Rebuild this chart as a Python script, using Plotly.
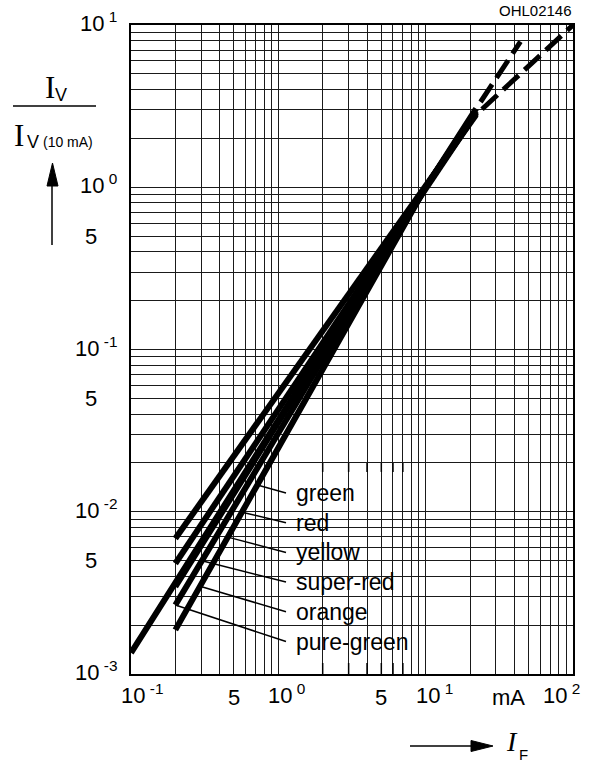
import numpy as np
import plotly.graph_objects as go

# relative luminous intensity Iv/Iv(10mA) vs forward current IF (mA)
CURVE_NAMES = ["green", "red", "yellow", "super-red", "orange", "pure-green"]
IF_START = [0.2, 0.2, 0.1, 0.2, 0.2, 0.2]
IV_START = [6.85e-3, 4.8e-3, 1.35e-3, 3.45e-3, 2.66e-3, 1.87e-3]
IF_REF = 10.0
IV_REF = 1.0
IF_END = [22, 22, 22, 22, 22, 22]
IV_END = [2.8, 2.85, 2.9, 2.9, 2.95, 3.05]

# dashed extrapolation above ~20 mA
DASH_A_IF = [22, 44]
DASH_A_IV = [3.05, 7.9]
DASH_B_IF = [22, 100]
DASH_B_IV = [2.8, 10.0]

# label leaders: which curve they end on and where (mA)
LEADER_ON = [5, 5, 5, 4, 5, 4]
LEADER_IF = [0.72, 0.566, 0.454, 0.303, 0.294, 0.2]

X_TICK_VALS = [0.1, 0.5, 1, 5, 10, 100]
X_TICK_TEXT = ["10<sup> -1</sup>", "5", "10<sup> 0</sup>", "5", "10<sup> 1</sup>", "10<sup> 2</sup>"]
Y_TICK_VALS = [10, 1, 0.5, 0.1, 0.05, 0.01, 0.005, 0.001]
Y_TICK_TEXT = ["10<sup> 1</sup>", "10<sup> 0</sup>", "5", "10<sup> -1</sup>", "5",
               "10<sup> -2</sup>", "5", "10<sup> -3</sup>"]
BOX_TICKS = [2, 3, 4, 5, 6, 7]

# figure geometry (px)
W, H = 599, 762
L, R, T, B = 131, 26, 25, 88
PW, PH = W - L - R, H - T - B

SANS = "Liberation Sans, Arial, sans-serif"
SERIF = "Liberation Serif, Times New Roman, serif"


def xp(px):
    return (px - L) / PW


def yp(py):
    return (H - B - py) / PH


def xd(v):
    return (np.log10(v) + 1) / 3


def yd(v):
    return (np.log10(v) + 3) / 4


def curve_at(i, x):
    lx0, ly0 = np.log10(IF_START[i]), np.log10(IV_START[i])
    lx1, ly1 = np.log10(IF_REF), np.log10(IV_REF)
    return 10 ** (ly0 + (np.log10(x) - lx0) * (ly1 - ly0) / (lx1 - lx0))


def minor_vals(lo, hi):
    vals = [d * 10.0 ** e for e in range(lo, hi) for d in range(1, 10)]
    return vals + [10.0 ** hi]


fig = go.Figure()

for i, name in enumerate(CURVE_NAMES):
    fig.add_trace(go.Scatter(x=[IF_START[i], IF_REF, IF_END[i]],
                             y=[IV_START[i], IV_REF, IV_END[i]],
                             mode="lines", name=name,
                             line=dict(color="black", width=6)))

for xs, ys in [(DASH_A_IF, DASH_A_IV), (DASH_B_IF, DASH_B_IV)]:
    fig.add_trace(go.Scatter(x=xs, y=ys, mode="lines",
                             line=dict(color="black", width=5, dash="0px,8px,21px,0px")))

shapes = []
# white label box over the grid
shapes.append(dict(type="rect", xref="paper", yref="paper",
                   x0=xd(1.09), x1=xd(7.8), y0=0, y1=yd(0.02),
                   fillcolor="white", line=dict(width=0), layer="between"))
for v in BOX_TICKS:
    shapes.append(dict(type="line", xref="paper", yref="paper",
                       x0=xd(v), x1=xd(v), y0=yd(0.02), y1=yd(0.02) - 9 / PH,
                       line=dict(color="black", width=1.5)))
    shapes.append(dict(type="line", xref="paper", yref="paper",
                       x0=xd(v), x1=xd(v), y0=0, y1=11 / PH,
                       line=dict(color="black", width=1.5)))

annotations = []
label_y = [493 + 29.7 * i for i in range(len(CURVE_NAMES))]
for i, name in enumerate(CURVE_NAMES):
    ax = LEADER_IF[i]
    shapes.append(dict(type="line", xref="paper", yref="paper",
                       x0=xp(286), y0=yp(label_y[i]),
                       x1=xd(ax), y1=yd(curve_at(LEADER_ON[i], ax)),
                       line=dict(color="black", width=1.5)))
    annotations.append(dict(text=name, xref="paper", yref="paper",
                            x=xp(294), y=yp(label_y[i]), xanchor="left", yanchor="middle",
                            showarrow=False, font=dict(family=SANS, size=23, color="black")))

# tick labels
for v, txt in zip(Y_TICK_VALS, Y_TICK_TEXT):
    if txt == "5":
        annotations.append(dict(text=txt, xref="paper", yref="paper", x=xp(91), y=yd(v),
                                xanchor="center", yanchor="middle", showarrow=False,
                                font=dict(family=SANS, size=22, color="black")))
    else:
        annotations.append(dict(text=txt, xref="paper", yref="paper", x=xp(119), y=yd(v),
                                xanchor="right", yanchor="middle", yshift=3, showarrow=False,
                                font=dict(family=SANS, size=22, color="black")))

for v, txt in zip(X_TICK_VALS, X_TICK_TEXT):
    a = dict(text=txt, xref="paper", yref="paper", x=xd(v), y=yp(697),
             yanchor="middle", showarrow=False,
             font=dict(family=SANS, size=22, color="black"))
    if txt == "5":
        a["xanchor"] = "center"
    elif v == 100:
        a["x"] = xp(541)
        a["xanchor"] = "left"
    else:
        a["xanchor"] = "left"
        a["xshift"] = -12
    a["yshift"] = 3 if txt != "5" else 0
    annotations.append(a)

annotations.append(dict(text="mA", xref="paper", yref="paper", x=xp(508), y=yp(697),
                        xanchor="center", yanchor="middle", showarrow=False,
                        font=dict(family=SANS, size=22, color="black")))
annotations.append(dict(text="OHL02146", xref="paper", yref="paper", x=xp(574), y=yp(11),
                        xanchor="right", yanchor="middle", showarrow=False,
                        font=dict(family=SANS, size=15, color="black")))

# y axis title: Iv / Iv(10 mA)
annotations += [
    dict(text="I", x=xp(50), y=yp(88), font=dict(family=SERIF, size=31)),
    dict(text="V", x=xp(61), y=yp(95), font=dict(family=SANS, size=18)),
    dict(text="I", x=xp(19), y=yp(135), font=dict(family=SERIF, size=31)),
    dict(text="V", x=xp(33), y=yp(142), font=dict(family=SANS, size=18)),
    dict(text="(10 mA)", x=xp(68), y=yp(142), font=dict(family=SANS, size=14)),
    dict(text="<i>I</i>", x=xp(512), y=yp(741), font=dict(family=SERIF, size=28)),
    dict(text="F", x=xp(523), y=yp(754), font=dict(family=SANS, size=15)),
]
for a in annotations[-7:]:
    a.update(xref="paper", yref="paper", xanchor="center", yanchor="middle", showarrow=False)
    a["font"]["color"] = "black"

# fraction bar and arrows
shapes.append(dict(type="line", xref="paper", yref="paper",
                   x0=xp(13), x1=xp(96), y0=yp(106), y1=yp(106),
                   line=dict(color="black", width=1.5)))
shapes.append(dict(type="line", xref="paper", yref="paper",
                   x0=xp(52), x1=xp(52), y0=yp(245), y1=yp(184),
                   line=dict(color="black", width=1.5)))
shapes.append(dict(type="path", xref="paper", yref="paper",
                   path="M {},{} L {},{} L {},{} Z".format(xp(47), yp(186), xp(52.5), yp(163),
                                                           xp(58), yp(186)),
                   fillcolor="black", line=dict(color="black", width=1)))
shapes.append(dict(type="line", xref="paper", yref="paper",
                   x0=xp(410), x1=xp(473), y0=yp(746), y1=yp(746),
                   line=dict(color="black", width=1.5)))
shapes.append(dict(type="path", xref="paper", yref="paper",
                   path="M {},{} L {},{} L {},{} Z".format(xp(471), yp(740.5), xp(493), yp(746),
                                                           xp(471), yp(751.5)),
                   fillcolor="black", line=dict(color="black", width=1)))

axis_style = dict(type="log", showgrid=True, gridcolor="#1a1a1a", gridwidth=1.4,
                  showticklabels=False, ticks="", showline=True, linecolor="black",
                  linewidth=2, mirror=True, zeroline=False)

fig.update_layout(
    width=W, height=H,
    margin=dict(l=L, r=R, t=T, b=B, pad=0),
    paper_bgcolor="white", plot_bgcolor="white",
    showlegend=False,
    xaxis=dict(range=[-1, 2], tickvals=minor_vals(-1, 2), **axis_style),
    yaxis=dict(range=[-3, 1], tickvals=minor_vals(-3, 1), **axis_style),
    shapes=shapes,
    annotations=annotations,
)

# page body has a default margin; drop it so the figure sits at the window origin
fig.write_html("out.html", config={"displayModeBar": False},
               post_script="document.body.style.margin='0';")
